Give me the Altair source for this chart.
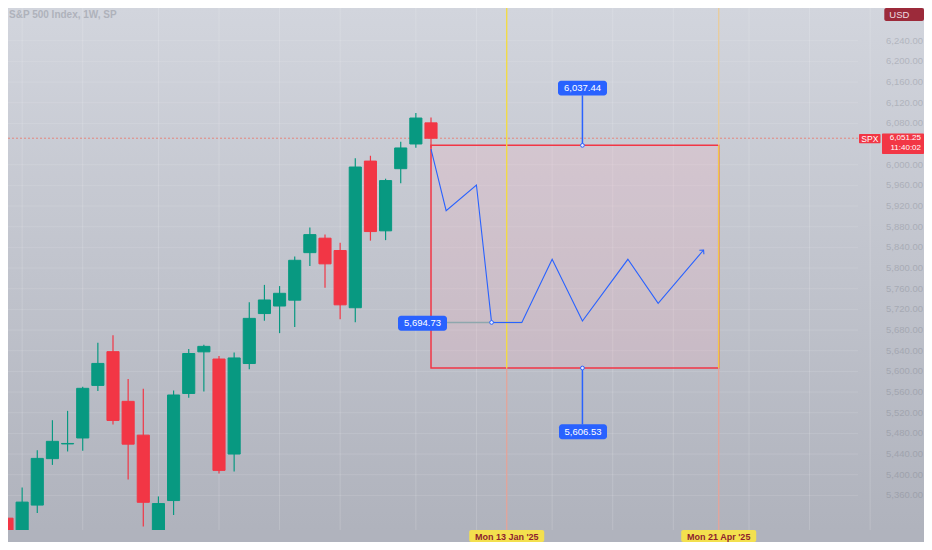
import altair as alt
import pandas as pd

# ---------------- data ----------------
weeks = ["2024-05-27", "2024-06-03", "2024-06-10", "2024-06-17", "2024-06-24",
         "2024-07-01", "2024-07-08", "2024-07-15", "2024-07-22", "2024-07-29",
         "2024-08-05", "2024-08-12", "2024-08-19", "2024-08-26", "2024-09-02",
         "2024-09-09", "2024-09-16", "2024-09-23", "2024-09-30", "2024-10-07",
         "2024-10-14", "2024-10-21", "2024-10-28", "2024-11-04", "2024-11-11",
         "2024-11-18", "2024-11-25", "2024-12-02", "2024-12-09"]
opens = [5315.9, 5283.4, 5341.2, 5431.1, 5459.6, 5471.1, 5572.8, 5638.2, 5542.0, 5476.6,
         5151.1, 5350.0, 5557.2, 5637.8, 5623.9, 5440.0, 5615.2, 5711.9, 5726.5, 5737.8,
         5829.8, 5857.8, 5833.9, 5723.2, 6007.0, 5872.0, 5992.3, 6040.1, 6081.0]
highs = [5315.9, 5375.1, 5447.3, 5505.5, 5523.6, 5570.3, 5655.6, 5669.7, 5585.3, 5566.2,
         5358.0, 5563.0, 5643.2, 5651.4, 5630.0, 5636.3, 5733.6, 5767.4, 5765.1, 5822.1,
         5878.5, 5865.0, 5849.0, 6012.5, 6017.3, 5972.9, 6044.2, 6100.0, 6091.5]
lows = [5191.7, 5234.3, 5326.0, 5419.0, 5445.0, 5446.5, 5562.0, 5497.0, 5390.9, 5300.0,
        5119.3, 5322.0, 5549.0, 5560.9, 5402.6, 5406.0, 5604.0, 5698.0, 5674.0, 5686.0,
        5804.0, 5762.0, 5701.0, 5695.0, 5853.0, 5854.0, 5964.0, 6033.0, 6033.0]
closes = [5277.5, 5347.0, 5431.6, 5464.6, 5460.5, 5567.2, 5615.4, 5505.0, 5459.1, 5346.6,
          5344.2, 5554.3, 5634.6, 5648.4, 5408.4, 5626.0, 5702.6, 5738.2, 5751.1, 5815.0,
          5864.7, 5808.1, 5728.8, 5995.5, 5870.6, 5969.3, 6032.4, 6090.3, 6051.25]

# projected path (week index from first candle, price)
proj_weeks = [28, 29, 31, 32, 34, 36, 38, 41, 43, 46]
proj_prices = [6030.0, 5911.0, 5960.7, 5694.73, 5694.73, 5816.9, 5697.5, 5816.9, 5731.8, 5834.9]

range_weeks = [28, 47]
range_high = 6037.44
range_low = 5606.53
mid_level = 5694.73
marker_weeks = [33, 47]
marker_labels = ["Mon 13 Jan '25", "Mon 21 Apr '25"]
month_weeks = [1, 5, 10, 14, 18, 22, 27, 31, 36, 40, 44, 49, 53, 57]
# 6,040 sits behind the price tag and 6,280 behind the USD button in the reference
price_ticks = [5360, 5400, 5440, 5480, 5520, 5560, 5600, 5640, 5680, 5720, 5760, 5800,
               5840, 5880, 5920, 5960, 6000, 6080, 6120, 6160, 6200, 6240]
last_price = 6051.25
countdown = "11:40:02"
title_text = "S&P 500 Index, 1W, SP"

# ---------------- geometry ----------------
W, H = 916, 534
OFF = 8
PX_WEEK = 15.143
X0_REF = 7.0
PX_PT = 0.5167
Y6000_REF = 164.7
XD = [(OFF - X0_REF) / PX_WEEK, (OFF + W - X0_REF) / PX_WEEK]
YD = [6000 - (OFF + H - Y6000_REF) / PX_PT, 6000 + (Y6000_REF - OFF) / PX_PT]
STRIP_TOP = 530  # page px where the time-axis strip starts
PANE_BOTTOM = 6000 - (STRIP_TOP - Y6000_REF) / PX_PT


def wk(ref_x):
    return (ref_x - X0_REF) / PX_WEEK


def pr(ref_y):
    return 6000 - (ref_y - Y6000_REF) / PX_PT


xs = alt.Scale(domain=XD, nice=False, zero=False)
ys = alt.Scale(domain=YD, nice=False, zero=False)

FONT = "Liberation Sans"
GREEN, RED, BLUE = "#089981", "#f23645", "#2962ff"
one = pd.DataFrame({"k": [0]})


def pxrect(x0, x1, y0, y1, fill, radius=0, opacity=1.0):
    return alt.Chart(one).mark_rect(fill=fill, cornerRadius=radius, opacity=opacity).encode(
        x=alt.value(x0 - OFF), x2=alt.value(x1 - OFF),
        y=alt.value(y0 - OFF), y2=alt.value(y1 - OFF))


def pxtext(x, y, text, color="white", size=9.5, align="center", weight="normal", opacity=1.0):
    return alt.Chart(one).mark_text(text=text, color=color, fontSize=size, align=align,
                                    baseline="middle", font=FONT, fontWeight=weight,
                                    opacity=opacity).encode(
        x=alt.value(x - OFF), y=alt.value(y - OFF))


# ---------------- layers ----------------
grad = alt.Gradient(gradient="linear",
                    stops=[alt.GradientStop(color="#d2d5dd", offset=0),
                           alt.GradientStop(color="#afb2bc", offset=1)],
                    x1=0, x2=0, y1=0, y2=1)
bg = alt.Chart(one).mark_rect(fill=grad).encode(
    x=alt.value(0), x2=alt.value(W), y=alt.value(0), y2=alt.value(H))

vgrid = alt.Chart(pd.DataFrame({"w": month_weeks})).mark_rule(
    color="white", opacity=0.16, strokeWidth=1).encode(
    x=alt.X("w:Q", scale=xs, axis=None), y=alt.value(0), y2=alt.value(STRIP_TOP - OFF))

ticks_df = pd.DataFrame({"p": price_ticks, "label": [f"{p:,.2f}" for p in price_ticks]})
hgrid = alt.Chart(ticks_df).mark_rule(color="white", opacity=0.12, strokeWidth=1).encode(
    y=alt.Y("p:Q", scale=ys, axis=None), x=alt.value(0), x2=alt.value(850))

cd = pd.DataFrame({"w": list(range(len(weeks))), "date": weeks, "o": opens,
                   "h": highs, "l": lows, "c": closes})
cd["dir"] = ["up" if c >= o else "down" for o, c in zip(opens, closes)]
cd["x1"] = cd["w"] - 0.4
cd["x2"] = cd["w"] + 0.4
cscale = alt.Scale(domain=["up", "down"], range=[GREEN, RED])

wicks = alt.Chart(cd).mark_rule(strokeWidth=1.2).encode(
    x=alt.X("w:Q", scale=xs, axis=None),
    y=alt.Y("l:Q", scale=ys, axis=None), y2="h:Q",
    color=alt.Color("dir:N", scale=cscale, legend=None))
bodies = alt.Chart(cd).mark_rect(strokeWidth=1).encode(
    x=alt.X("x1:Q", scale=xs, axis=None), x2="x2:Q",
    y=alt.Y("o:Q", scale=ys, axis=None), y2="c:Q",
    fill=alt.Fill("dir:N", scale=cscale, legend=None),
    stroke=alt.Stroke("dir:N", scale=cscale, legend=None))

lastline = alt.Chart(pd.DataFrame({"p": [last_price]})).mark_rule(
    color="#f06a5a", opacity=0.7, strokeDash=[2, 2], strokeWidth=1).encode(
    y=alt.Y("p:Q", scale=ys, axis=None), x=alt.value(0), x2=alt.value(851))

box = alt.Chart(pd.DataFrame({"w0": [range_weeks[0]], "w1": [range_weeks[1]],
                              "top": [range_high], "bot": [range_low]})).mark_rect(
    fill="#ffb0bc", fillOpacity=0.2, stroke=RED, strokeWidth=1.5).encode(
    x=alt.X("w0:Q", scale=xs, axis=None), x2="w1:Q",
    y=alt.Y("top:Q", scale=ys, axis=None), y2="bot:Q")

seg_df = pd.DataFrame({
    "w": [marker_weeks[0], marker_weeks[0], marker_weeks[1], marker_weeks[1], marker_weeks[1]],
    "p1": [YD[1], range_low, YD[1], range_high, range_low],
    "p2": [range_low, PANE_BOTTOM, range_high, range_low, PANE_BOTTOM],
    "col": ["#f5dc3c", "#e3a49a", "#e9cc9a", "#f2d24a", "#e3a49a"]})
datelines = alt.Chart(seg_df).mark_rule(strokeWidth=1.3).encode(
    x=alt.X("w:Q", scale=xs, axis=None),
    y=alt.Y("p1:Q", scale=ys, axis=None), y2="p2:Q",
    color=alt.Color("col:N", scale=None))

proj_df = pd.DataFrame({"w": proj_weeks, "p": proj_prices, "seq": list(range(len(proj_weeks)))})
proj = alt.Chart(proj_df).mark_line(color=BLUE, strokeWidth=1.1).encode(
    x=alt.X("w:Q", scale=xs, axis=None), y=alt.Y("p:Q", scale=ys, axis=None), order="seq:Q")

mid_df = pd.DataFrame({"w0": [wk(447)], "w1": [proj_weeks[4]], "p": [mid_level]})
midline = alt.Chart(mid_df).mark_rule(color="#8ea7ad", strokeWidth=1.6).encode(
    x=alt.X("w0:Q", scale=xs, axis=None), x2="w1:Q", y=alt.Y("p:Q", scale=ys, axis=None))

arrow_df = pd.DataFrame({"w": [proj_weeks[-1]], "p": [proj_prices[-1]]})
arrow = alt.Chart(arrow_df).mark_point(
    shape="M -1 -1 L 0 0 L -1 1", angle=311, size=36, filled=False,
    stroke=BLUE, strokeWidth=1.1, opacity=1).encode(
    x=alt.X("w:Q", scale=xs, axis=None), y=alt.Y("p:Q", scale=ys, axis=None))

conn_df = pd.DataFrame({"w": [38, 38], "p1": [range_high, range_low],
                        "p2": [pr(95.3), pr(424.3)]})
connectors = alt.Chart(conn_df).mark_rule(color=BLUE, strokeWidth=1.5).encode(
    x=alt.X("w:Q", scale=xs, axis=None), y=alt.Y("p1:Q", scale=ys, axis=None), y2="p2:Q")

dots_df = pd.DataFrame({"w": [38, 38, proj_weeks[3]], "p": [range_high, range_low, mid_level]})
dots = alt.Chart(dots_df).mark_point(shape="circle", size=14, filled=True, fill="#e8ecff",
                                     stroke=BLUE, strokeWidth=1, opacity=1).encode(
    x=alt.X("w:Q", scale=xs, axis=None), y=alt.Y("p:Q", scale=ys, axis=None))

axis_labels = alt.Chart(ticks_df).mark_text(
    align="right", baseline="middle", fontSize=9.5, font=FONT, color="#6f737e", opacity=0.3).encode(
    x=alt.value(923 - OFF), y=alt.Y("p:Q", scale=ys, axis=None), text="label:N")

time_strip = alt.Chart(one).mark_rect(fill="#b0b3bd").encode(
    x=alt.value(0), x2=alt.value(W), y=alt.value(STRIP_TOP - OFF), y2=alt.value(H))

marker_df = pd.DataFrame({"w": marker_weeks, "label": marker_labels})
marker_df["x1"] = marker_df["w"] - 37.5 / PX_WEEK
marker_df["x2"] = marker_df["w"] + 37.5 / PX_WEEK
marker_boxes = alt.Chart(marker_df).mark_rect(fill="#f3e04e", cornerRadius=2).encode(
    x=alt.X("x1:Q", scale=xs, axis=None), x2="x2:Q",
    y=alt.value(STRIP_TOP - OFF), y2=alt.value(H))
marker_text = alt.Chart(marker_df).mark_text(
    fontSize=9, font=FONT, fontWeight="bold", color="#8e1d2e", baseline="middle").encode(
    x=alt.X("w:Q", scale=xs, axis=None), y=alt.value((STRIP_TOP + OFF + H) / 2 - OFF + 0.5),
    text="label:N")

layers = [
    bg, vgrid, hgrid, lastline, wicks, bodies, box, datelines, midline, proj, arrow,
    connectors, dots, axis_labels, time_strip, marker_boxes, marker_text,
    # blue price labels
    pxrect(558, 607, 80.7, 95.5, BLUE, 3), pxtext(582.5, 88.2, f"{range_high:,.2f}"),
    pxrect(559, 607, 424.3, 439.3, BLUE, 3), pxtext(583, 432, f"{range_low:,.2f}"),
    pxrect(398, 447, 315.7, 330.7, BLUE, 3), pxtext(422.5, 323.4, f"{mid_level:,.2f}"),
    # right price-scale tags
    pxrect(859, 880.5, 134, 143.3, RED, 1), pxtext(869.8, 138.9, "SPX", size=8.5),
    pxrect(882, 924, 133.5, 154, RED, 1),
    pxtext(921, 138.4, f"{last_price:,.2f}", align="right", size=8),
    pxtext(921, 148.4, countdown, align="right", size=8),
    pxrect(884.3, 924, 8, 21, "#9c2a3a", 2), pxtext(889.3, 14.8, "USD", align="left", size=9.5, color="#eddde0"),
    pxtext(9, 15, title_text, align="left", size=10, color="#6f737e", weight="bold", opacity=0.35),
]

chart = alt.layer(*layers).properties(
    width=W, height=H, padding=0,
    autosize=alt.AutoSizeParams(type="none"),
    background="#c4c7cf",
).configure_view(stroke=None)

chart.save("out.html", embed_options={"renderer": "svg", "actions": False})
